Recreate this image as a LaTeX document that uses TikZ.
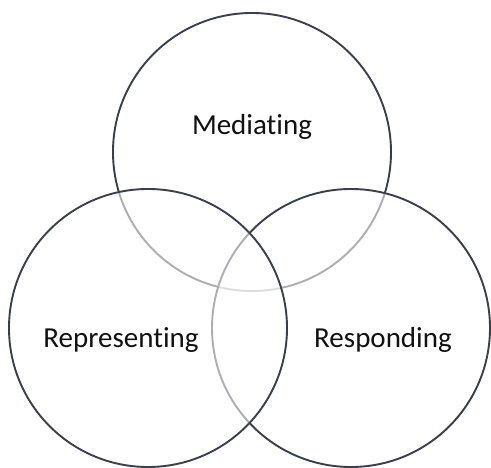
\documentclass[tikz,border=0pt]{standalone}
\usepackage{fontspec}
\setmainfont[Ligatures={NoCommon}]{Carlito}
\definecolor{ringcol}{HTML}{3A3F4B}
\definecolor{txtcol}{HTML}{111111}
\begin{document}
\begin{tikzpicture}[x=1pt,y=-1pt,
  ring/.style={circle,draw=ringcol,line width=1.9pt,fill=white,fill opacity=0.58,draw opacity=1,minimum size=278pt,inner sep=0pt},
  lbl/.style={text=txtcol,font=\fontsize{29}{34}\selectfont,inner sep=0pt,anchor=base}]
\useasboundingbox[fill=white] (0,0) rectangle (491,468);
\node[ring] (top) at (252,152) {};
\node[ring] (right) at (351,328) {};
\node[ring] (left) at (148,328) {};
\node[lbl] (med) at (252,135) {Mediating};
\node[lbl] (rep) at (121,348) {Representing};
\node[lbl] (res) at (383,348) {Responding};
\end{tikzpicture}
\end{document}
